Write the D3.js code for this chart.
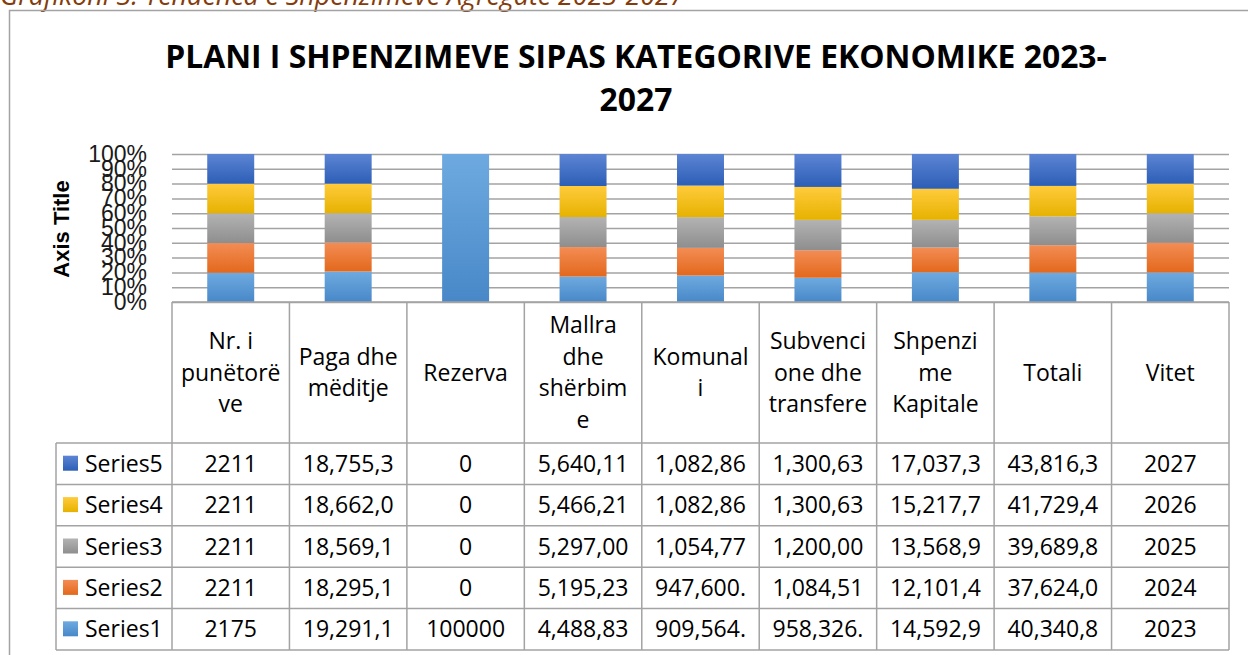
<!DOCTYPE html>
<html>
<head>
<meta charset="utf-8">
<script src="https://cdn.jsdelivr.net/npm/d3@7"></script>
<style>
  body { margin: 0; background: #fff; overflow: hidden; }
  svg { display: block; }
</style>
</head>
<body>
<div id="chart"></div>
<script>
// Categories (table header), with the line breaks the table shows
var categories = ["Nr. i punëtorëve", "Paga dhe mëditje", "Rezerva", "Mallra dhe shërbime", "Komunali",
    "Subvencione dhe transfere", "Shpenzime Kapitale", "Totali", "Vitet"];
var headerLines = [["Nr. i", "punëtorë", "ve"], ["Paga dhe", "mëditje"], ["Rezerva"], ["Mallra", "dhe", "shërbim", "e"],
    ["Komunal", "i"], ["Subvenci", "one dhe", "transfere"], ["Shpenzi", "me", "Kapitale"], ["Totali"], ["Vitet"]];

var seriesNames = ["Series1", "Series2", "Series3", "Series4", "Series5"];

// Series values (per category)
var series1 = [2175, 19291.1, 100000, 4488.83, 909564, 958326, 14592.9, 40340.8, 2023];
var series2 = [2211, 18295.1, 0, 5195.23, 947600, 1084510, 12101.4, 37624.0, 2024];
var series3 = [2211, 18569.1, 0, 5297.00, 1054770, 1200000, 13568.9, 39689.8, 2025];
var series4 = [2211, 18662.0, 0, 5466.21, 1082860, 1300630, 15217.7, 41729.4, 2026];
var series5 = [2211, 18755.3, 0, 5640.11, 1082860, 1300630, 17037.3, 43816.3, 2027];

// Table texts as shown in the data table
var labels1 = ["2175", "19,291,1", "100000", "4,488,83", "909,564.", "958,326.", "14,592,9", "40,340,8", "2023"];
var labels2 = ["2211", "18,295,1", "0", "5,195,23", "947,600.", "1,084,51", "12,101,4", "37,624,0", "2024"];
var labels3 = ["2211", "18,569,1", "0", "5,297,00", "1,054,77", "1,200,00", "13,568,9", "39,689,8", "2025"];
var labels4 = ["2211", "18,662,0", "0", "5,466,21", "1,082,86", "1,300,63", "15,217,7", "41,729,4", "2026"];
var labels5 = ["2211", "18,755,3", "0", "5,640,11", "1,082,86", "1,300,63", "17,037,3", "43,816,3", "2027"];

var yTicks = [0, 0.1, 0.2, 0.3, 0.4, 0.5, 0.6, 0.7, 0.8, 0.9, 1];

var allValues = [series1, series2, series3, series4, series5];
var allLabels = [labels1, labels2, labels3, labels4, labels5];

var svgWidth = 1248, svgHeight = 655;
var plot = { left: 172, right: 1229, top: 154, bottom: 302 };
var tableBottom = 650, headerBottom = 443, legendLeft = 56;

var colors = [
    ["#6eaae0", "#4888c8"],
    ["#f38d55", "#e3681c"],
    ["#b3b3b3", "#8e8e8e"],
    ["#ffcb3c", "#e6b200"],
    ["#5d85d4", "#2c5eb6"]
];
var lineColor = "#a3a3a3";
var tableFont = "'Open Sans', 'Noto Sans', sans-serif";
var tableSize = "23px";

var svg = d3.select("#chart").append("svg")
    .attr("width", svgWidth)
    .attr("height", svgHeight);

// gradients
var defs = svg.append("defs");
colors.forEach(function(c, i) {
    var g = defs.append("linearGradient")
        .attr("id", "grad" + i)
        .attr("x1", 0).attr("y1", 0).attr("x2", 0).attr("y2", 1);
    g.append("stop").attr("offset", "0%").attr("stop-color", c[0]);
    g.append("stop").attr("offset", "100%").attr("stop-color", c[1]);
});

// caption above the chart, cut at the top edge
var caption = svg.append("text")
    .attr("x", 0)
    .attr("y", 5)
    .style("font-family", tableFont)
    .style("font-style", "italic")
    .style("font-size", "22px")
    .style("fill", "#843c0c")
    .text("Grafikoni 3. Tendenca e Shpenzimeve Agregate 2023-2027");
fitWidth(caption, 685, 22);

// chart border
svg.append("rect")
    .attr("x", 9.5).attr("y", 10.5)
    .attr("width", 1400).attr("height", 800)
    .attr("fill", "none")
    .attr("stroke", lineColor)
    .attr("stroke-width", 1.5);

// title
var t1 = svg.append("text")
    .attr("x", 636).attr("y", 68)
    .attr("text-anchor", "middle")
    .style("font-family", tableFont)
    .style("font-weight", "bold")
    .style("font-size", "30px")
    .style("fill", "#000")
    .text("PLANI I SHPENZIMEVE SIPAS KATEGORIVE EKONOMIKE 2023-");
var titleSize = fitWidth(t1, 942, 30);
svg.append("text")
    .attr("x", 636).attr("y", 111)
    .attr("text-anchor", "middle")
    .style("font-family", tableFont)
    .style("font-weight", "bold")
    .style("font-size", titleSize + "px")
    .style("fill", "#000")
    .text("2027");

// scales
var x = d3.scaleBand()
    .domain(categories)
    .range([plot.left, plot.right]);

var y = d3.scaleLinear()
    .domain([0, 1])
    .range([plot.bottom, plot.top]);

// gridlines
svg.append("g")
    .attr("transform", `translate(${plot.left},0)`)
    .call(d3.axisLeft(y).tickValues(yTicks).tickSize(-(plot.right - plot.left)).tickFormat(""))
    .call(function(g) {
        g.select(".domain").remove();
        g.selectAll("line").attr("stroke", lineColor).attr("stroke-width", 1.5);
    });

// y axis labels
svg.append("g")
    .attr("transform", `translate(${plot.left},0)`)
    .call(d3.axisLeft(y).tickValues(yTicks).tickSize(0).tickPadding(25).tickFormat(d3.format(".0%")))
    .call(function(g) {
        g.select(".domain").remove();
        g.selectAll("text")
            .style("font-family", "'Liberation Sans', Arial, sans-serif")
            .style("font-size", "23px")
            .style("fill", "#1a1a1a");
    });

// axis title
svg.append("text")
    .attr("transform", "translate(69, 229) rotate(-90)")
    .attr("text-anchor", "middle")
    .style("font-family", "'Liberation Sans', Arial, sans-serif")
    .style("font-weight", "bold")
    .style("font-size", "22px")
    .style("fill", "#000")
    .text("Axis Title");

// stacked 100% bars
var rows = categories.map(function(c, i) {
    var r = { category: c };
    seriesNames.forEach(function(s, j) { r[s] = allValues[j][i]; });
    return r;
});

var stacked = d3.stack()
    .keys(seriesNames)
    .offset(d3.stackOffsetExpand)(rows);

var barW = x.bandwidth() * 0.4;

svg.append("g").selectAll("g")
    .data(stacked)
    .enter().append("g")
    .attr("fill", function(d, i) { return "url(#grad" + i + ")"; })
    .selectAll("rect")
    .data(function(d) { return d; })
    .enter().append("rect")
    .attr("x", function(d) { return x(d.data.category) + (x.bandwidth() - barW) / 2; })
    .attr("y", function(d) { return y(d[1]); })
    .attr("width", barW)
    .attr("height", function(d) { return y(d[0]) - y(d[1]); });

// axis line at bottom of plot
svg.append("line")
    .attr("x1", plot.left).attr("x2", plot.right)
    .attr("y1", plot.bottom).attr("y2", plot.bottom)
    .attr("stroke", lineColor).attr("stroke-width", 1.5);

// ---- data table ----
var rowOrder = seriesNames.slice().reverse();
var rowScale = d3.scaleBand()
    .domain(rowOrder)
    .range([headerBottom, tableBottom]);

var table = svg.append("g");

// vertical lines in header and body
var bounds = categories.map(function(c) { return x(c); }).concat([plot.right]);
table.selectAll(".vh")
    .data(bounds)
    .enter().append("line")
    .attr("x1", function(d) { return d; }).attr("x2", function(d) { return d; })
    .attr("y1", plot.bottom).attr("y2", tableBottom)
    .attr("stroke", lineColor).attr("stroke-width", 1.5);

// legend column left edge
table.append("line")
    .attr("x1", legendLeft).attr("x2", legendLeft)
    .attr("y1", headerBottom).attr("y2", tableBottom)
    .attr("stroke", lineColor).attr("stroke-width", 1.5);

// horizontal lines
var hLines = rowOrder.map(function(s) { return rowScale(s); }).concat([tableBottom]);
table.selectAll(".hl")
    .data(hLines)
    .enter().append("line")
    .attr("x1", legendLeft).attr("x2", plot.right)
    .attr("y1", function(d) { return d; }).attr("y2", function(d) { return d; })
    .attr("stroke", lineColor).attr("stroke-width", 1.5);

// header texts
var lineH = 31.5;
var headerMid = (plot.bottom + headerBottom) / 2;
categories.forEach(function(c, i) {
    var lines = headerLines[i];
    var t = table.append("text")
        .attr("text-anchor", "middle")
        .style("font-family", tableFont)
        .style("font-size", tableSize)
        .style("fill", "#000");
    lines.forEach(function(l, k) {
        t.append("tspan")
            .attr("x", x(c) + x.bandwidth() / 2)
            .attr("y", headerMid + (k - (lines.length - 1) / 2) * lineH)
            .attr("dy", "0.35em")
            .text(l);
    });
});

// legend keys and values
seriesNames.forEach(function(s, j) {
    var ry = rowScale(s) + rowScale.bandwidth() / 2;
    table.append("rect")
        .attr("x", 63).attr("y", ry - 8)
        .attr("width", 15).attr("height", 15)
        .attr("fill", "url(#grad" + j + ")");
    table.append("text")
        .attr("x", 85).attr("y", ry)
        .attr("dy", "0.35em")
        .style("font-family", tableFont)
        .style("font-size", tableSize)
        .style("fill", "#000")
        .text(s);
    categories.forEach(function(c, i) {
        table.append("text")
            .attr("x", x(c) + x.bandwidth() / 2)
            .attr("y", ry)
            .attr("dy", "0.35em")
            .attr("text-anchor", "middle")
            .style("font-family", tableFont)
            .style("font-size", tableSize)
            .style("fill", "#000")
            .text(allLabels[j][i]);
    });
});

// scale a text's font size so it spans the given width
function fitWidth(sel, target, base) {
    var len = sel.node().getComputedTextLength();
    var size = base * target / len;
    sel.style("font-size", size + "px");
    return size;
}
</script>
</body>
</html>
